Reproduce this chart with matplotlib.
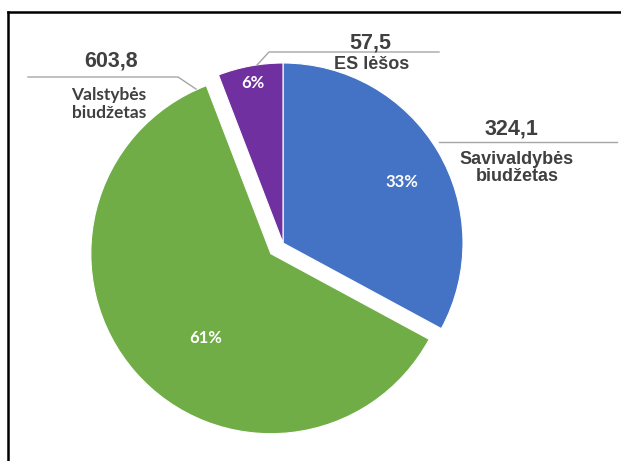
import matplotlib
matplotlib.use('Agg')
import matplotlib.pyplot as plt
from matplotlib.lines import Line2D

# duomenys
labels = ['Savivaldybės\nbiudžetas', 'Valstybės\nbiudžetas', 'ES lėšos']
values = [324.1, 603.8, 57.5]
value_texts = ['324,1', '603,8', '57,5']
colors = ['#4472C4', '#70AD47', '#7030A0']

W, H = 621, 461
R = 180
TXT = '#404040'
LINE = '#A6A6A6'
explode = [0, 0.09 * R, 0]  # matplotlib explode yra absoliutus


def py(y):
    # pikseliai nuo viršaus -> ašies koordinatės
    return H - y


fig = plt.figure(figsize=(W / 100, H / 100), dpi=100)
ax = fig.add_axes([0, 0, 1, 1])

wedges, texts, pcts = ax.pie(values, colors=colors, explode=explode, startangle=90,
                             counterclock=False, center=(283, py(243)), radius=R,
                             autopct='%.0f%%', frame=True,
                             wedgeprops=dict(edgecolor='white', linewidth=0.8),
                             textprops=dict(color='white', family='Lato',
                                            fontweight='bold', fontsize=12))
ax.set_xlim(0, W)
ax.set_ylim(0, H)
ax.set_aspect('equal')
ax.axis('off')

# procentų vietos
pct_pos = [(402, 182), (206, 338), (253, 83)]
for t, (x, y) in zip(pcts, pct_pos):
    t.set_position((x, py(y)))
    t.set_ha('center')
    t.set_va('center')

# Savivaldybės biudžetas
ax.text(511, py(129), value_texts[0], ha='center', va='center', fontsize=15.5,
        fontweight='bold', family='Liberation Sans', color=TXT)
ax.plot([439, 617], [py(142), py(142)], color=LINE, lw=1)
ax.text(517, py(168), labels[0], ha='center', va='center', fontsize=13,
        fontweight='bold', family='Liberation Sans', color=TXT, linespacing=1.05)

# Valstybės biudžetas
ax.text(111, py(61), value_texts[1], ha='center', va='center', fontsize=15.5,
        fontweight='bold', family='Liberation Sans', color=TXT)
ax.plot([28, 178, 196], [py(77), py(77), py(89)], color=LINE, lw=1)
ax.text(109, py(104), labels[1], ha='center', va='center', fontsize=12.5,
        fontweight='bold', family='Lato', color=TXT, linespacing=1.15)

# ES lėšos
ax.text(370, py(43), value_texts[2], ha='center', va='center', fontsize=15.5,
        fontweight='bold', family='Liberation Sans', color=TXT)
ax.plot([257, 269, 439], [py(65), py(52), py(52)], color=LINE, lw=1)
ax.text(372, py(65), labels[2], ha='center', va='center', fontsize=13,
        fontweight='bold', family='Liberation Sans', color=TXT)

# rėmelis
fig.add_artist(Line2D([8 / W, 1], [1 - 12 / H, 1 - 12 / H], color='black', lw=1.8))
fig.add_artist(Line2D([8 / W, 8 / W], [0, 1 - 12 / H], color='black', lw=1.8))

fig.savefig('out.png', dpi=100)
